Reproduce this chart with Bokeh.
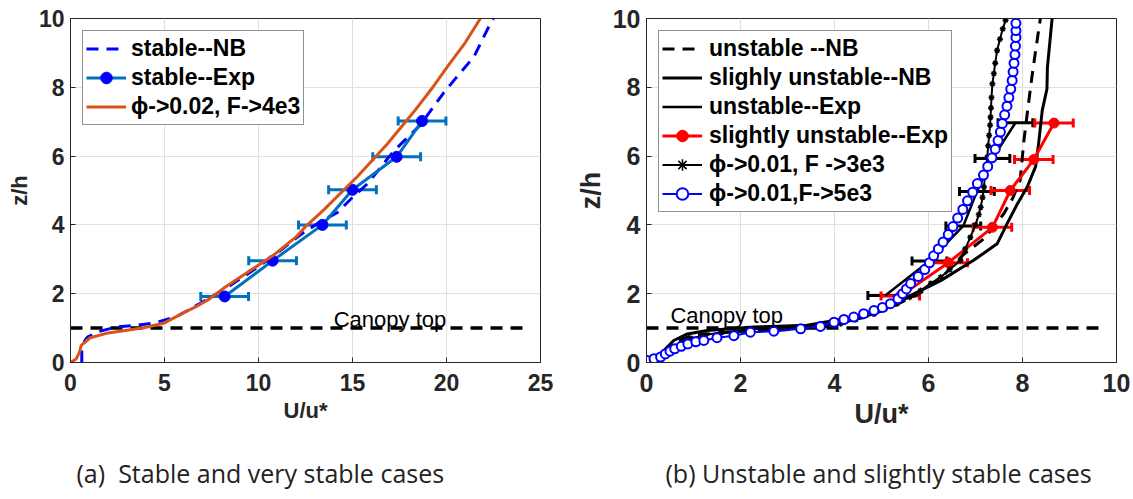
from bokeh.plotting import figure
from bokeh.layouts import row, column
from bokeh.models import (ColumnDataSource, Whisker, TeeHead, Legend, LegendItem, Label)
from bokeh.embed import file_html
from bokeh.resources import INLINE

# ---------------- data: panel (a) ----------------
stable_nb_u = [0.6, 0.6, 0.75, 0.9, 1.5, 2.5, 3.5, 4.5, 5.7, 6.9, 8.1, 9.5, 10.8, 12.2,
               13.3, 14.2, 15.0, 15.8, 17.2, 18.6, 19.85, 20.7, 21.45, 22.43, 22.5]
stable_nb_z = [0.0, 0.35, 0.62, 0.74, 0.9, 1.04, 1.08, 1.15, 1.35, 1.72, 2.1, 2.6, 3.1, 3.7,
               4.1, 4.36, 4.8, 5.2, 6.15, 6.9, 7.84, 8.4, 8.88, 9.96, 10.0]
stable_exp_u = [8.2, 10.75, 13.4, 15.0, 17.35, 18.7]
stable_exp_z = [1.92, 2.96, 4.0, 5.02, 5.98, 7.02]
stable_exp_err = [1.27, 1.27, 1.27, 1.27, 1.27, 1.27]
phi002_u = [0.0, 0.3, 0.48, 0.57, 1.05, 2.0, 3.0, 3.9, 5.0, 5.85, 6.6, 7.4, 8.2, 9.5, 10.8,
            12.0, 12.5, 13.5, 15.25, 16.85, 18.25, 19.2, 20.05, 21.0, 21.8]
phi002_z = [0.0, 0.1, 0.3, 0.5, 0.72, 0.86, 0.94, 1.01, 1.15, 1.4, 1.6, 1.85, 2.18, 2.65, 3.12,
            3.65, 3.95, 4.45, 5.4, 6.35, 7.28, 7.95, 8.6, 9.3, 10.0]

# ---------------- data: panel (b) ----------------
unst_nb_u = [0.0, 0.2, 0.35, 0.6, 1.0, 1.96, 3.09, 3.84, 4.6, 5.2, 5.8, 6.3, 6.72, 7.2, 7.6,
             7.8, 7.95, 8.03, 8.1, 8.2, 8.28, 8.38]
unst_nb_z = [0.0, 0.1, 0.3, 0.6, 0.8, 0.9, 0.96, 1.06, 1.3, 1.6, 2.0, 2.5, 3.11, 3.62, 4.32,
             4.8, 5.3, 6.45, 7.23, 8.3, 9.07, 10.0]
sl_nb_u = [0.0, 0.3, 0.58, 0.87, 1.29, 2.28, 3.42, 4.41, 5.12, 5.55, 6.26, 6.96, 7.46, 7.67,
           7.89, 8.1, 8.28, 8.35, 8.42, 8.52, 8.53, 8.63]
sl_nb_z = [0.0, 0.25, 0.64, 0.83, 0.93, 1.03, 1.08, 1.32, 1.61, 1.9, 2.38, 2.97, 3.45, 4.03,
           4.61, 5.1, 5.7, 6.45, 7.33, 7.95, 8.58, 10.0]
unst_exp_u = [5.08, 6.02, 6.74, 7.03, 7.36, 7.85]
unst_exp_z = [1.95, 2.95, 3.97, 4.97, 5.93, 6.97]
unst_exp_err = [0.37, 0.37, 0.37, 0.37, 0.37, 0.37]
sl_exp_u = [5.4, 6.42, 7.36, 7.74, 8.24, 8.67]
sl_exp_z = [1.93, 2.9, 3.93, 5.0, 5.9, 6.96]
sl_exp_err = [0.41, 0.41, 0.41, 0.41, 0.41, 0.41]
f3e3_u = [0.0, 0.15, 0.3, 0.4, 0.55, 0.75, 0.95, 1.25, 1.6, 2.1, 2.6, 3.2, 3.8, 4.13, 4.45,
          4.84, 5.07, 5.33, 5.6, 5.83, 6.05, 6.26, 6.45, 6.68, 6.78, 6.89, 7.0, 7.07, 7.11,
          7.15, 7.18, 7.2, 7.23, 7.25, 7.27, 7.29, 7.31, 7.32, 7.33, 7.34, 7.36, 7.39, 7.42,
          7.46, 7.52, 7.58, 7.64]
f3e3_z = [0.0, 0.1, 0.2, 0.3, 0.45, 0.6, 0.7, 0.8, 0.88, 0.95, 0.99, 1.03, 1.08, 1.13, 1.25,
          1.41, 1.55, 1.71, 1.9, 2.09, 2.3, 2.48, 2.7, 2.97, 3.3, 3.64, 4.0, 4.3, 4.51,
          4.8, 5.1, 5.4, 5.7, 5.97, 6.3, 6.6, 6.9, 7.13, 7.4, 7.7, 8.1, 8.4, 8.7,
          9.07, 9.4, 9.7, 9.95]
f5e3_u = [0.01, 0.16, 0.30, 0.40, 0.50, 0.60, 0.74, 0.88, 1.05, 1.22, 1.50, 1.86, 2.21, 2.71,
          3.28, 3.70, 3.99, 4.20, 4.41, 4.62, 4.84, 5.02, 5.19, 5.35, 5.45, 5.53, 5.62, 5.78,
          5.92, 6.02, 6.11, 6.21, 6.31, 6.42, 6.52, 6.62, 6.73, 6.83, 6.94, 7.04, 7.17, 7.26,
          7.35, 7.42, 7.48, 7.53, 7.57, 7.62, 7.67, 7.71, 7.75, 7.78, 7.80, 7.82, 7.84, 7.85,
          7.86, 7.86, 7.86]
f5e3_z = [0.06, 0.11, 0.16, 0.25, 0.33, 0.40, 0.47, 0.54, 0.60, 0.64, 0.72, 0.78, 0.88, 0.91,
          0.98, 1.05, 1.17, 1.25, 1.32, 1.42, 1.51, 1.60, 1.71, 1.85, 2.00, 2.14, 2.30, 2.50,
          2.70, 2.90, 3.10, 3.30, 3.50, 3.72, 3.95, 4.20, 4.45, 4.70, 4.95, 5.20, 5.45, 5.70,
          5.95, 6.20, 6.45, 6.70, 6.95, 7.20, 7.45, 7.70, 7.95, 8.20, 8.45, 8.70, 8.95, 9.20,
          9.45, 9.65, 9.86]

canopy_z = 1.0
canopy_u_a = [0.0, 24.4]
canopy_u_b = [0.0, 9.75]

ticks_a_x = [0, 5, 10, 15, 20, 25]
ticks_b_x = [0, 2, 4, 6, 8, 10]
ticks_z = [0, 2, 4, 6, 8, 10]

caption_a = "(a)\u00a0 Stable and very stable cases"
caption_b = "(b) Unstable and slightly stable cases"

FONT = "Liberation Sans"
DARK = "#262626"


def style(p, xt, tick_px, label_px):
    p.xaxis.ticker = xt
    p.yaxis.ticker = ticks_z
    for ax in (p.xaxis[0], p.yaxis[0]):
        ax.major_label_text_font = FONT
        ax.major_label_text_font_style = "bold"
        ax.major_label_text_color = DARK
        ax.major_label_text_font_size = f"{tick_px}px"
        ax.axis_label_text_font = FONT
        ax.axis_label_text_font_style = "bold"
        ax.axis_label_text_color = DARK
        ax.axis_label_text_font_size = f"{label_px}px"
        ax.axis_line_color = DARK
        ax.major_tick_in = 5
        ax.major_tick_out = 0
        ax.major_tick_line_color = DARK
        ax.minor_tick_line_color = None
        ax.axis_label_standoff = 4
    p.xaxis.major_label_standoff = 11
    p.yaxis.major_label_standoff = 6
    p.xaxis.axis_label = "U/u*"
    p.yaxis.axis_label = "z/h"
    p.xgrid.grid_line_color = "#e0e0e0"
    p.ygrid.grid_line_color = "#e0e0e0"
    p.outline_line_color = DARK
    p.outline_line_width = 1
    p.background_fill_color = "white"
    p.border_fill_color = "white"


def legend_for(p, items, label_h, pad, standoff):
    lg = Legend(items=items, location="top_left")
    lg.margin = 12
    lg.padding = pad
    lg.spacing = 0
    lg.glyph_width = 40
    lg.glyph_height = label_h
    lg.label_height = label_h
    lg.label_standoff = standoff
    lg.label_text_font = FONT
    lg.label_text_font_style = "bold"
    lg.label_text_font_size = "23px"
    lg.label_text_color = "black"
    lg.border_line_color = DARK
    lg.border_line_width = 1
    lg.background_fill_alpha = 1.0
    p.add_layout(lg)


def caption_fig(width, height, text, x0):
    c = figure(width=width, height=height, x_range=(0, width), y_range=(0, height),
               output_backend="svg", toolbar_location=None,
               min_border_left=0, min_border_right=0, min_border_top=0, min_border_bottom=0)
    c.axis.visible = False
    c.xgrid.visible = False
    c.ygrid.visible = False
    c.outline_line_color = None
    c.add_layout(Label(x=x0, y=height - 24, text=text, text_font="Open Sans",
                       text_font_size="25px", text_color="#222222",
                       text_baseline="middle", text_align="left"))
    return c


# ================= panel (a) =================
pa = figure(width=568, height=448, x_range=(0, 25), y_range=(0, 10),
            output_backend="svg", toolbar_location=None,
            min_border_left=70, min_border_right=28, min_border_top=17, min_border_bottom=77)
style(pa, ticks_a_x, 23, 22)

pa.line(canopy_u_a, [canopy_z, canopy_z], line_color="black", line_width=3.5, line_dash="12 8")

r_nb = pa.line(stable_nb_u, stable_nb_z, line_color="#0000FF", line_width=3, line_dash="12 8")

src_a = ColumnDataSource(dict(u=stable_exp_u, z=stable_exp_z,
                              lo=[u - e for u, e in zip(stable_exp_u, stable_exp_err)],
                              hi=[u + e for u, e in zip(stable_exp_u, stable_exp_err)]))
pa.add_layout(Whisker(source=src_a, base="z", lower="lo", upper="hi", dimension="width",
                      line_color="#0072BD", line_width=3,
                      upper_head=TeeHead(size=9, line_color="#0072BD", line_width=3),
                      lower_head=TeeHead(size=9, line_color="#0072BD", line_width=3)))
r_exp_l = pa.line("u", "z", source=src_a, line_color="#0072BD", line_width=3)
r_exp_m = pa.scatter("u", "z", source=src_a, marker="circle", size=11,
                     fill_color="#0000FF", line_color="#0000FF")

r_phi = pa.line(phi002_u, phi002_z, line_color="#D95319", line_width=3)

pa.add_layout(Label(x=14.0, y=1.25, text="Canopy top", text_font=FONT,
                    text_font_size="22px", text_color="black", text_baseline="alphabetic"))

legend_for(pa, [LegendItem(label="stable--NB", renderers=[r_nb]),
                LegendItem(label="stable--Exp", renderers=[r_exp_l, r_exp_m]),
                LegendItem(label="\u03d5->0.02, F->4e3", renderers=[r_phi])], 29, 3, 5)

# ================= panel (b) =================
pb = figure(width=565, height=448, x_range=(0, 10), y_range=(0, 10),
            output_backend="svg", toolbar_location=None,
            min_border_left=78, min_border_right=17, min_border_top=18, min_border_bottom=86)
style(pb, ticks_b_x, 25, 27)

pb.line(canopy_u_b, [canopy_z, canopy_z], line_color="black", line_width=3.5, line_dash="12 8")

r_unb = pb.line(unst_nb_u, unst_nb_z, line_color="black", line_width=3, line_dash="12 8")
r_snb = pb.line(sl_nb_u, sl_nb_z, line_color="black", line_width=3)

src_u = ColumnDataSource(dict(u=unst_exp_u, z=unst_exp_z,
                              lo=[u - e for u, e in zip(unst_exp_u, unst_exp_err)],
                              hi=[u + e for u, e in zip(unst_exp_u, unst_exp_err)]))
pb.add_layout(Whisker(source=src_u, base="z", lower="lo", upper="hi", dimension="width",
                      line_color="black", line_width=3,
                      upper_head=TeeHead(size=9, line_color="black", line_width=3),
                      lower_head=TeeHead(size=9, line_color="black", line_width=3)))
r_uexp = pb.line("u", "z", source=src_u, line_color="black", line_width=2.5)

src_s = ColumnDataSource(dict(u=sl_exp_u, z=sl_exp_z,
                              lo=[u - e for u, e in zip(sl_exp_u, sl_exp_err)],
                              hi=[u + e for u, e in zip(sl_exp_u, sl_exp_err)]))
pb.add_layout(Whisker(source=src_s, base="z", lower="lo", upper="hi", dimension="width",
                      line_color="#FF0000", line_width=3,
                      upper_head=TeeHead(size=9, line_color="#FF0000", line_width=3),
                      lower_head=TeeHead(size=9, line_color="#FF0000", line_width=3)))
r_sexp_l = pb.line("u", "z", source=src_s, line_color="#FF0000", line_width=3)
r_sexp_m = pb.scatter("u", "z", source=src_s, marker="circle", size=10,
                      fill_color="#FF0000", line_color="#FF0000")

r_f3_l = pb.line(f3e3_u, f3e3_z, line_color="black", line_width=2)
r_f3_m = pb.scatter(f3e3_u, f3e3_z, marker="asterisk", size=6, line_color="black", line_width=1.5)

r_f5_l = pb.line(f5e3_u, f5e3_z, line_color="#0000FF", line_width=2)
r_f5_m = pb.scatter(f5e3_u, f5e3_z, marker="circle", size=9, line_color="#0000FF",
                    line_width=2, fill_color="white")

pb.add_layout(Label(x=0.51, y=1.37, text="Canopy top", text_font=FONT,
                    text_font_size="22px", text_color="black", text_baseline="alphabetic"))

legend_for(pb, [LegendItem(label="unstable --NB", renderers=[r_unb]),
                LegendItem(label="slighly unstable--NB", renderers=[r_snb]),
                LegendItem(label="unstable--Exp", renderers=[r_uexp]),
                LegendItem(label="slightly unstable--Exp", renderers=[r_sexp_l, r_sexp_m]),
                LegendItem(label="\u03d5->0.01, F ->3e3", renderers=[r_f3_l, r_f3_m]),
                LegendItem(label="\u03d5->0.01,F->5e3", renderers=[r_f5_l, r_f5_m])], 29, 3, 7)

cap_a = caption_fig(568, 51, caption_a, 76)
cap_b = caption_fig(565, 51, caption_b, 97)

layout = column(row(pa, pb), row(cap_a, cap_b), spacing=0)
open("out.html", "w").write(file_html(layout, INLINE))
